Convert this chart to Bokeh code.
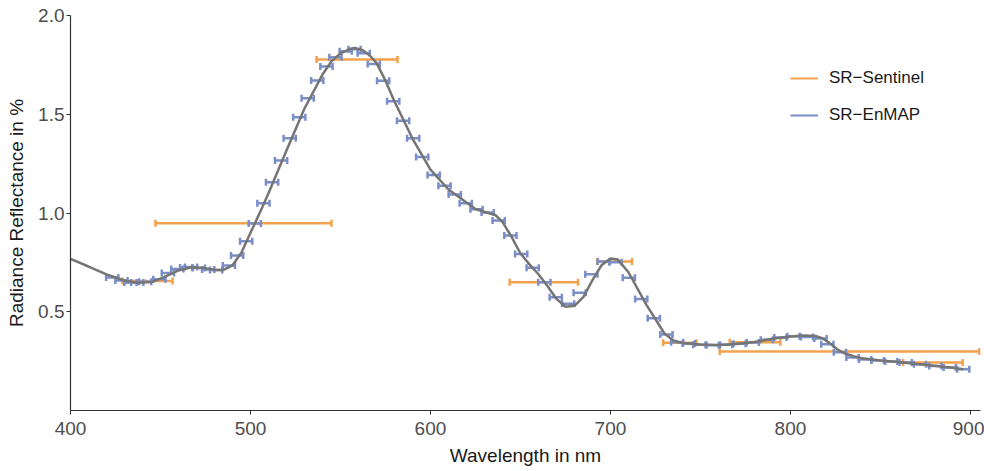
from bokeh.plotting import figure
from bokeh.models import ColumnDataSource, Whisker, TeeHead, FixedTicker, Legend, LegendItem, Range1d
from bokeh.embed import file_html
from bokeh.resources import INLINE

# ---- data ----
enmap_wl = [423.2, 428.3, 433.3, 437.1, 441.5, 449.4, 454.1, 459.3, 464.3, 467.0,
            471.3, 476.5, 480.9, 488.0, 492.6, 497.6, 502.4, 507.2, 512.0, 517.0,
            521.8, 527.1, 531.8, 537.1, 542.2, 547.2, 552.9, 557.8, 562.9, 568.5,
            573.7, 579.3, 584.8, 590.4, 595.4, 601.8, 607.8, 613.5, 619.6, 625.6,
            631.8, 637.9, 644.4, 650.4, 656.8, 663.3, 669.6, 676.5, 682.9, 689.4,
            696.3, 702.8, 710.2, 717.1, 724.1, 731.1, 737.1, 743.5, 749.4, 756.8,
            764.3, 771.7, 779.1, 786.9, 794.4, 801.7, 809.2, 816.7, 820.5, 827.5,
            834.5, 841.5, 848.5, 856.0, 864.0, 872.0, 880.5, 888.5, 896.0]
enmap_val = [0.673, 0.658, 0.648, 0.648, 0.652, 0.665, 0.696, 0.717, 0.724, 0.726,
             0.722, 0.714, 0.711, 0.734, 0.785, 0.857, 0.947, 1.050, 1.156, 1.266,
             1.379, 1.485, 1.581, 1.671, 1.742, 1.789, 1.819, 1.829, 1.809, 1.755,
             1.669, 1.566, 1.467, 1.379, 1.283, 1.193, 1.138, 1.094, 1.050, 1.019,
             1.003, 0.962, 0.886, 0.793, 0.723, 0.650, 0.574, 0.540, 0.596, 0.690,
             0.754, 0.751, 0.672, 0.564, 0.467, 0.385, 0.346, 0.339, 0.333, 0.331,
             0.333, 0.338, 0.344, 0.358, 0.370, 0.376, 0.372, 0.365, 0.335, 0.295,
             0.268, 0.258, 0.253, 0.248, 0.243, 0.234, 0.225, 0.218, 0.209]
enmap_halfwidth = 3.4

sentinel_lo = [428.9, 447.2, 536.7, 644.0, 692.6, 729.3, 766.3, 760.7, 862.6]
sentinel_hi = [456.7, 545.0, 581.7, 682.0, 712.0, 747.8, 794.4, 905.0, 895.7]
sentinel_val = [0.656, 0.948, 1.777, 0.650, 0.754, 0.343, 0.346, 0.299, 0.243]

curve_wl = [400, 410, 420, 430, 437, 445, 452, 460, 467, 474, 480, 485, 490, 495,
            500, 505, 510, 520, 530, 540, 545, 550, 555, 558, 562, 566, 570, 575,
            580, 590, 600, 610, 620, 625, 632, 636, 640, 645, 650, 655, 660, 665,
            670, 675, 680, 685, 690, 695, 700, 704, 710, 720, 730, 735, 740, 750,
            760, 770, 780, 790, 800, 808, 814, 818, 822, 826, 830, 835, 840, 850,
            860, 870, 880, 890, 896]
curve_val = [0.768, 0.729, 0.689, 0.658, 0.647, 0.650, 0.675, 0.709, 0.725, 0.722,
             0.712, 0.712, 0.735, 0.800, 0.900, 0.998, 1.100, 1.316, 1.529, 1.701,
             1.768, 1.808, 1.830, 1.835, 1.826, 1.800, 1.760, 1.670, 1.565, 1.377,
             1.220, 1.119, 1.053, 1.020, 1.000, 0.990, 0.955, 0.880, 0.795, 0.740,
             0.690, 0.630, 0.565, 0.525, 0.530, 0.575, 0.660, 0.735, 0.770, 0.765,
             0.700, 0.535, 0.390, 0.355, 0.342, 0.334, 0.332, 0.337, 0.347, 0.363,
             0.375, 0.380, 0.377, 0.365, 0.340, 0.310, 0.290, 0.275, 0.264, 0.253,
             0.245, 0.236, 0.226, 0.216, 0.209]

x_ticks = [400, 500, 600, 700, 800, 900]
y_ticks = [0.5, 1.0, 1.5, 2.0]

ORANGE = "#f4a14c"
BLUE = "#7b8ec8"
GRAY = "#757575"
FONT = "Liberation Sans"

p = figure(width=984, height=471, output_backend="svg", toolbar_location=None,
           x_range=Range1d(400, 905.6), y_range=Range1d(0.0, 2.0),
           min_border_left=70, min_border_right=4, min_border_top=15, min_border_bottom=61)
p.outline_line_color = None
p.xgrid.visible = False
p.ygrid.visible = False
p.background_fill_color = "white"

for ax in (p.xaxis[0], p.yaxis[0]):
    ax.axis_line_color = "#333333"
    ax.axis_line_width = 1.2
    ax.major_tick_line_color = "#333333"
    ax.major_tick_in = 0
    ax.major_tick_out = 4
    ax.minor_tick_line_color = None
    ax.major_label_text_font = FONT
    ax.major_label_text_font_size = "19px"
    ax.major_label_text_color = "#4d4d4d"
    ax.axis_label_text_font = FONT
    ax.axis_label_text_font_size = "19px"
    ax.axis_label_text_font_style = "normal"
    ax.axis_label_text_color = "#1a1a1a"

p.xaxis.ticker = FixedTicker(ticks=x_ticks)
p.yaxis.ticker = FixedTicker(ticks=y_ticks)
p.yaxis.major_label_overrides = {v: f"{v:.1f}" for v in y_ticks}
p.xaxis.axis_label = "Wavelength in nm"
p.yaxis.axis_label = "Radiance Reflectance in %"
p.xaxis.major_label_standoff = 7
p.yaxis.major_label_standoff = 2
p.xaxis.axis_label_standoff = 7
p.yaxis.axis_label_standoff = 8

s_src = ColumnDataSource(dict(lo=sentinel_lo, hi=sentinel_hi, y=sentinel_val))
e_src = ColumnDataSource(dict(lo=[w - enmap_halfwidth for w in enmap_wl],
                              hi=[w + enmap_halfwidth for w in enmap_wl],
                              y=enmap_val))

ws = Whisker(source=s_src, base="y", lower="lo", upper="hi", dimension="width",
             line_color=ORANGE, line_width=2.5, level="underlay",
             lower_head=TeeHead(size=7, line_color=ORANGE, line_width=2.5),
             upper_head=TeeHead(size=7, line_color=ORANGE, line_width=2.5))
we = Whisker(source=e_src, base="y", lower="lo", upper="hi", dimension="width",
             line_color=BLUE, line_width=2.5, level="underlay",
             lower_head=TeeHead(size=7, line_color=BLUE, line_width=2.5),
             upper_head=TeeHead(size=7, line_color=BLUE, line_width=2.5))
p.add_layout(ws)
p.add_layout(we)

p.line(curve_wl, curve_val, line_color=GRAY, line_width=2.5)

# legend proxies (kept outside the visible range)
leg_s = p.line(x=[0, 1], y=[-10, -10], line_color=ORANGE, line_width=2)
leg_e = p.line(x=[0, 1], y=[-10, -10], line_color=BLUE, line_width=2)
legend = Legend(items=[LegendItem(label="SR\u2212Sentinel", renderers=[leg_s]),
                       LegendItem(label="SR\u2212EnMAP", renderers=[leg_e])],
                location=(720, 285), orientation="vertical",
                glyph_width=28, glyph_height=20, spacing=17, label_standoff=11,
                padding=0, margin=0, border_line_color=None,
                background_fill_alpha=0,
                label_text_font=FONT, label_text_font_size="17px",
                label_text_color="#1a1a1a")
p.add_layout(legend)

open("out.html", "w").write(file_html(p, INLINE))
